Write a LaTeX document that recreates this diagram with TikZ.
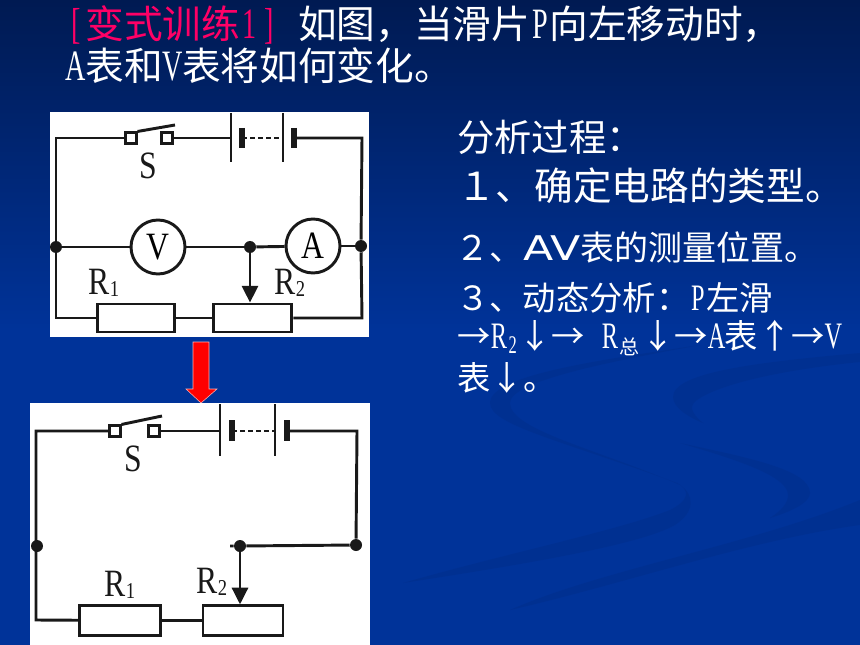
\documentclass[tikz,border=0pt]{standalone}
\usepackage{fontspec}
\usetikzlibrary{arrows.meta}
\setmainfont{Liberation Serif}
\newfontfamily\cjk{Noto Sans CJK SC}
\newfontfamily\lat[FakeStretch=0.65,Scale=1.12]{Liberation Serif}
\newfontfamily\latc[FakeStretch=0.82]{Liberation Serif}
\newfontfamily\wide[FakeStretch=1.3]{DejaVu Sans}
\definecolor{navytop}{HTML}{001A52}
\definecolor{navylow}{HTML}{003399}
\definecolor{swoosh}{HTML}{002B80}
\definecolor{pinkred}{HTML}{FF0066}
\newcommand{\sz}[1]{\fontsize{#1}{#1}\selectfont}
\newcommand{\hw}[1]{\makebox[.5em]{\lat #1}}
\newcommand{\rsub}[1]{R\raisebox{-1.5pt}{\sz{17}#1}}
\tikzset{
  wire/.style = {draw=black!90, line width=2.2pt},
  plate/.style = {draw=black!90, line width=3.8pt},
  meter/.style = {circle, draw=black!90, line width=2.2pt, fill=white, minimum size=40.5pt, inner sep=0pt, font=\latc\sz{29}},
  load/.style = {rectangle, draw=black!90, line width=2.2pt, fill=white, inner sep=0pt},
  contact/.style = {rectangle, draw=black!90, line width=1.8pt, fill=white, minimum size=8pt, inner sep=0pt},
  joint/.style = {circle, fill=black!90, minimum size=9pt, inner sep=0pt},
  tag/.style = {font=\latc\sz{29}, inner sep=0pt, text=black!90},
  say/.style = {anchor=west, inner sep=0pt, text=white, font=\cjk\sz{25}},
  head/.style = {anchor=west, inner sep=0pt, text=white, font=\cjk\sz{29}},
  band/.style = {fill=swoosh, opacity=.3}
}
\begin{document}
\begin{tikzpicture}[x=0.75pt,y=-0.75pt]
  \useasboundingbox (0,0) rectangle (860,645);
  % background
  \fill[navylow] (0,330) rectangle (860,645);
  \shade[top color=navytop, bottom color=navylow] (0,0) rectangle (860,330);
  \fill[band] (860,353) .. controls (760,362) and (673,372) .. (673,397) .. controls (673,408) and (690,418) .. (703,423) .. controls (690,412) and (688,405) .. (700,398) .. controls (730,380) and (800,368) .. (860,362) -- cycle;
  \fill[band] (680,443) .. controls (750,458) and (810,470) .. (810,493) .. controls (810,503) and (790,512) .. (770,518) .. controls (782,510) and (788,503) .. (788,495) .. controls (788,475) and (730,458) .. (680,443) -- cycle;
  \fill[band] (700,345) .. controls (600,360) and (490,375) .. (490,403) .. controls (490,425) and (560,440) .. (677,483) .. controls (690,490) and (690,500) .. (670,510) .. controls (620,530) and (500,555) .. (403,583) .. controls (520,565) and (640,545) .. (675,525) .. controls (695,512) and (695,495) .. (680,485) .. controls (600,450) and (510,430) .. (510,403) .. controls (510,380) and (620,360) .. (700,345) -- cycle;
  \fill[band] (860,500) .. controls (750,545) and (600,570) .. (510,610) .. controls (620,585) and (750,540) .. (860,525) -- cycle;

  % title
  \node[head] (line1) at (66,25) {\textcolor{pinkred}{\hw{[}变式训练\hw{1}\hw{]}}\hw{ }如图，当滑片\hw{P}向左移动时，};
  \node[head] (line2) at (66,66) {\hw{A}表和\hw{V}表将如何变化。};

  % first circuit
  \fill[white] (50,112) rectangle (369,337);
  \coordinate (tl) at (56,138);
  \coordinate (tr) at (362,138);
  \coordinate (bl) at (56,318);
  \coordinate (br) at (362,318);
  \node[contact] (k1) at (131,138) {};
  \node[contact] (k2) at (167,138) {};
  \coordinate (k3) at (175,125);
  \coordinate (b1) at (231,138);
  \coordinate (b1u) at (231,113);
  \coordinate (b1d) at (231,162);
  \coordinate (b2u) at (242,128);
  \coordinate (b2d) at (242,148);
  \coordinate (b3) at (283,138);
  \coordinate (b3u) at (283,113);
  \coordinate (b3d) at (283,162);
  \coordinate (b4) at (294,138);
  \coordinate (b4u) at (294,128);
  \coordinate (b4d) at (294,148);
  \node[joint] (jl) at (56,247) {};
  \node[joint] (jm) at (250,247) {};
  \node[joint] (jr) at (361,246) {};
  \node[meter] (V) at (158,247) {V};
  \node[meter] (A) at (313,246) {A};
  \node[load, minimum width=58pt, minimum height=21pt] (R1) at (136,318) {};
  \node[load, minimum width=59pt, minimum height=21pt] (R2) at (252.5,318) {};
  \draw[wire] (k1) -- (tl) -- (jl) -- (bl) -- (R1);
  \draw[wire] (k2) -- (b1);
  \draw[wire] (k1.north east) -- (k3);
  \draw[wire] (b1u) -- (b1d);
  \draw[plate] (b2u) -- (b2d);
  \draw[wire, dash pattern=on 4pt off 2pt] (b2u |- b1) -- (b3);
  \draw[wire] (b3u) -- (b3d);
  \draw[plate] (b4u) -- (b4d);
  \draw[wire] (b4) -- (tr) -- (jr) -- (br) -- (R2);
  \draw[wire] (R1) -- (R2);
  \draw[wire] (jl) -- (V);
  \draw[wire] (V) -- (jm);
  \draw[wire] (jm) -- (A);
  \draw[wire] (A) -- (jr);
  \draw[wire, -{Triangle[length=12.5pt,width=12pt]}] (jm) -- (jm |- R2.north);
  \node[tag] (S1) at (148,166) {S};
  \node[tag] (R1t) at (104,283) {\rsub{1}};
  \node[tag] (R2t) at (290,283) {\rsub{2}};

  % red arrow
  \fill[red, draw=white!70!red, line width=.4pt] (193,342) -- (209,342) -- (209,389) -- (217,389) -- (201,403) -- (186,389) -- (193,389) -- cycle;

  % second circuit
  \fill[white] (30,403) rectangle (370,645);
  \coordinate (tl2) at (36,431);
  \coordinate (tr2) at (357,431);
  \coordinate (bl2) at (36,620);
  \node[contact] (k4) at (115,431) {};
  \node[contact] (k5) at (154,431) {};
  \coordinate (k6) at (162,416);
  \coordinate (c1) at (220,431);
  \coordinate (c1u) at (220,404);
  \coordinate (c1d) at (220,456);
  \coordinate (c2u) at (232,420);
  \coordinate (c2d) at (232,441);
  \coordinate (c3) at (275,431);
  \coordinate (c3u) at (275,404);
  \coordinate (c3d) at (275,456);
  \coordinate (c4) at (287,431);
  \coordinate (c4u) at (287,420);
  \coordinate (c4d) at (287,441);
  \coordinate (stub) at (230,546);
  \node[joint] (jl2) at (37,546) {};
  \node[joint] (jm2) at (240,546) {};
  \node[joint] (jr2) at (356,545) {};
  \node[load, minimum width=61pt, minimum height=22pt] (R3) at (120,620.5) {};
  \node[load, minimum width=60pt, minimum height=22pt] (R4) at (243,620.5) {};
  \draw[wire] (k4) -- (tl2) -- (bl2) -- (R3);
  \draw[wire] (k5) -- (c1);
  \draw[wire] (k4.north east) -- (k6);
  \draw[wire] (c1u) -- (c1d);
  \draw[plate] (c2u) -- (c2d);
  \draw[wire, dash pattern=on 4pt off 2pt] (c2u |- c1) -- (c3);
  \draw[wire] (c3u) -- (c3d);
  \draw[plate] (c4u) -- (c4d);
  \draw[wire] (c4) -- (tr2) -- (jr2);
  \draw[wire] (stub) -- (jm2) -- (jr2);
  \draw[wire] (R3) -- (R4);
  \draw[wire, -{Triangle[length=12.5pt,width=12pt]}] (jm2) -- (jm2 |- R4.north);
  \node[tag] (S2) at (133,459) {S};
  \node[tag] (R3t) at (120,585) {\rsub{1}};
  \node[tag] (R4t) at (212,582) {\rsub{2}};

  % right text
  \node[say, font=\cjk\sz{28}] (t0) at (457,137) {分析过程：};
  \node[say, font=\cjk\sz{29}] (t1) at (457,186) {１、确定电路的类型。};
  \node[say, font=\cjk\sz{25.5}] (t2) at (455,247) {２、{\wide AV}表的测量位置。};
  \node[say] (t3) at (456,298) {３、动态分析：\hw{P}左滑};
  \node[say] (t4) at (457,338) {→\hw{R}\makebox[.33em]{\raisebox{-4pt}{\sz{17}\lat 2}}↓→\hw{ }\hw{R}\makebox[.7em]{\raisebox{-5pt}{\sz{15}总}}↓→\hw{A}表↑→\hw{V}};
  \node[say] (t5) at (457,378) {表↓。};
\end{tikzpicture}
\end{document}
